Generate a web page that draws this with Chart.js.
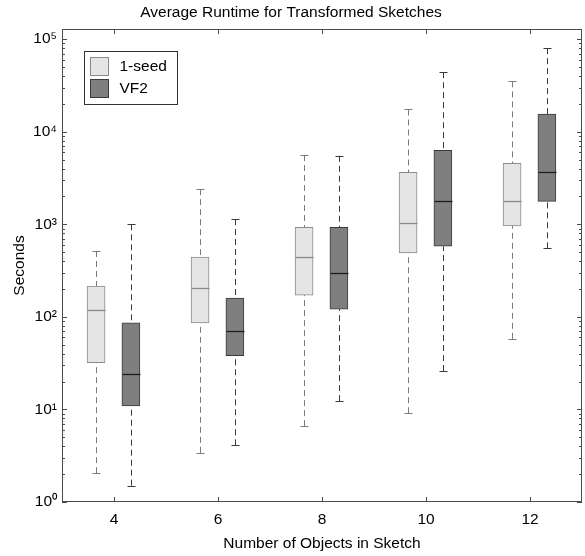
<!DOCTYPE html>
<html><head><meta charset="utf-8">
<script src="https://cdn.jsdelivr.net/npm/chart.js@4.4.1/dist/chart.umd.min.js"></script>
<style>html,body{margin:0;padding:0;background:#fff}</style>
</head><body>
<canvas id="c" width="585" height="556"></canvas>
<script>
// box plot: runtime per sketch size, log scale

const categories=[4,6,8,10,12];
const yTicks=[1,10,100,1000,10000,100000];

// 1-seed
const seedMin=[2.05,3.4,6.6,9.1,58];
const seedQ1=[32,86,172,490,960];
const seedMed=[118,205,445,1030,1770];
const seedQ3=[215,442,930,3640,4570];
const seedMax=[515,2400,5600,17400,35000];

// VF2
const vfMin=[1.5,4.1,12.3,26,550];
const vfQ1=[10.9,38,121,580,1770];
const vfMed=[24,71,296,1770,3640];
const vfQ3=[86,160,930,6300,15500];
const vfMax=[1000,1140,5500,44000,80000];

const F="'Liberation Sans', Arial, Helvetica, sans-serif";
const FS=15.5;
const AX="#4a4a4a";
const BW=18; // box width px
const sup=["⁰","¹","²","³","⁴","⁵"];

const series=[
  {label:"1-seed",off:-0.345,min:seedMin,q1:seedQ1,med:seedMed,q3:seedQ3,max:seedMax,
   fill:"#e5e5e5",edge:"#8a8a8a",medC:"#8a8a8a",whC:"#7a7a7a"},
  {label:"VF2",off:0.325,min:vfMin,q1:vfQ1,med:vfMed,q3:vfQ3,max:vfMax,
   fill:"#7f7f7f",edge:"#3a3a3a",medC:"#1e1e1e",whC:"#3a3a3a"}
];

const boxPlot={id:"boxPlot",
  afterDatasetsDraw(chart){
    const {ctx,scales:{x,y}}=chart;
    ctx.save();ctx.lineWidth=1;
    series.forEach(s=>{
      categories.forEach((c,i)=>{
        const px=Math.round(x.getPixelForValue(c+s.off))+0.5;
        const yMax=y.getPixelForValue(s.max[i]),yQ3=y.getPixelForValue(s.q3[i]);
        const yMin=y.getPixelForValue(s.min[i]),yQ1=y.getPixelForValue(s.q1[i]);
        const yMed=Math.round(y.getPixelForValue(s.med[i]))+0.5;
        ctx.strokeStyle=s.whC;
        // whiskers (dashed)
        ctx.setLineDash([6,4]);
        ctx.beginPath();ctx.moveTo(px,yMax);ctx.lineTo(px,yQ3);ctx.moveTo(px,yMin);ctx.lineTo(px,yQ1);ctx.stroke();
        ctx.setLineDash([]);
        // caps
        const ymx=Math.round(yMax)+0.5,ymn=Math.round(yMin)+0.5;
        ctx.beginPath();ctx.moveTo(px-4,ymx);ctx.lineTo(px+4,ymx);ctx.moveTo(px-4,ymn);ctx.lineTo(px+4,ymn);ctx.stroke();
        // median
        ctx.strokeStyle=s.medC;ctx.lineWidth=1.3;
        ctx.beginPath();ctx.moveTo(px-BW/2,yMed);ctx.lineTo(px+BW/2,yMed);ctx.stroke();
        ctx.lineWidth=1;
      });
    });
    ctx.restore();
  },
  afterDraw(chart){
    const {ctx,chartArea:a,scales:{x,y}}=chart;
    ctx.save();ctx.strokeStyle=AX;ctx.lineWidth=1;
    // frame
    ctx.strokeRect(Math.round(a.left)+0.5,Math.round(a.top)+0.5,Math.round(a.right-a.left)-1,Math.round(a.bottom-a.top)-1);
    ctx.beginPath();
    // x ticks (inward, top and bottom)
    categories.forEach(c=>{const px=Math.round(x.getPixelForValue(c))+0.5;
      ctx.moveTo(px,a.bottom);ctx.lineTo(px,a.bottom-5);ctx.moveTo(px,a.top);ctx.lineTo(px,a.top+5)});
    // y ticks: major + minor, left and right
    yTicks.forEach(v=>{
      const py=Math.round(y.getPixelForValue(v))+0.5;
      ctx.moveTo(a.left,py);ctx.lineTo(a.left+5,py);ctx.moveTo(a.right,py);ctx.lineTo(a.right-5,py);
      for(let k=2;k<10;k++){const mv=v*k;if(mv>y.max)break;const my=Math.round(y.getPixelForValue(mv))+0.5;
        ctx.moveTo(a.left,my);ctx.lineTo(a.left+3,my);ctx.moveTo(a.right,my);ctx.lineTo(a.right-3,my)}
    });
    ctx.stroke();
    // legend
    const lx=Math.round(a.left)+22.5,ly=Math.round(a.top)+22.5;
    ctx.fillStyle="#fff";ctx.fillRect(lx,ly,93,53);
    ctx.strokeStyle="#333";ctx.strokeRect(lx,ly,93,53);
    ctx.font=FS+"px "+F;ctx.textBaseline="middle";ctx.textAlign="left";
    series.forEach((s,i)=>{
      const sy=ly+6+i*22;
      ctx.fillStyle=s.fill;ctx.fillRect(lx+6,sy,18,18);
      ctx.strokeStyle=s.edge;ctx.strokeRect(lx+6,sy,18,18);
      ctx.fillStyle="#000";ctx.fillText(s.label,lx+35,sy+9.5);
    });
    ctx.restore();
  }
};

new Chart(document.getElementById("c"),{
  type:"bar",
  data:{datasets:series.map(s=>({
    label:s.label,
    data:categories.map((c,i)=>({x:c+s.off,y:[s.q1[i],s.q3[i]]})),
    backgroundColor:s.fill,borderColor:s.edge,borderWidth:1,borderSkipped:false,
    barThickness:BW,grouped:false
  }))},
  options:{
    responsive:false,animation:false,
    layout:{padding:{left:0,right:3,top:0,bottom:0}},
    plugins:{
      legend:{display:false},tooltip:{enabled:false},
      title:{display:true,text:"Average Runtime for Transformed Sketches",color:"#000",
        font:{family:F,size:FS,weight:"normal"},padding:{top:3.7,bottom:6.7}}
    },
    scales:{
      x:{type:"linear",min:3,max:13,offset:false,
        afterBuildTicks:s=>{s.ticks=categories.map(v=>({value:v}))},
        afterFit:s=>{s.height=54},
        grid:{display:false,drawTicks:false,offset:false},border:{display:false},
        ticks:{color:"#000",font:{family:F,size:FS},padding:8,maxRotation:0},
        title:{display:true,text:"Number of Objects in Sketch",color:"#000",font:{family:F,size:FS},padding:{top:0,bottom:3}}
      },
      y:{type:"logarithmic",min:1,max:Math.pow(10,5.11),
        afterBuildTicks:s=>{s.ticks=yTicks.map(v=>({value:v}))},
        afterFit:s=>{s.width=62},
        grid:{display:false,drawTicks:false},border:{display:false},
        ticks:{color:"#000",font:{family:F,size:FS},padding:5,
          callback:v=>"10"+sup[Math.round(Math.log10(v))]},
        title:{display:true,text:"Seconds",color:"#000",font:{family:F,size:FS},padding:{top:10,bottom:0}}
      }
    }
  },
  plugins:[boxPlot]
});
</script>
</body></html>
